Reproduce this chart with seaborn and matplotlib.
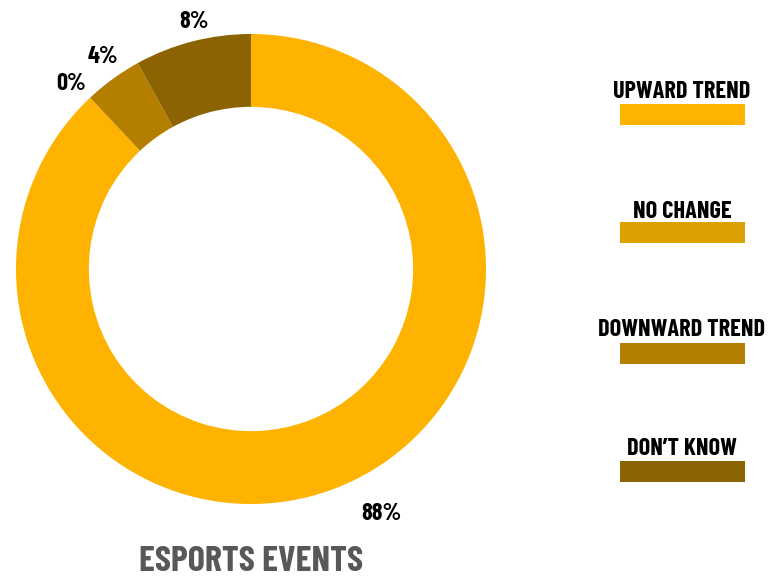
import numpy as np
import matplotlib
matplotlib.use("Agg")
import matplotlib.pyplot as plt
from matplotlib.patches import Rectangle
import seaborn as sns

# Survey answers for esports events
categories = ["UPWARD TREND", "NO CHANGE", "DOWNWARD TREND", "DON\u2019T KNOW"]
shares = [88, 0, 4, 8]
pct_labels = ["88%", "0%", "4%", "8%"]
title = "ESPORTS EVENTS"

colors = ["#FDB300", "#DCA000", "#B47F00", "#8B6300"]

sns.set_theme(style="white")
plt.rcParams["font.family"] = ["Barlow Condensed", "DejaVu Sans"]
plt.rcParams["font.weight"] = 700

W, H = 769, 578
fig = plt.figure(figsize=(W / 100, H / 100), dpi=100)
fig.patch.set_facecolor("white")

# donut: centre (251, 269) px, outer radius 235 px
cx, cy, r = 251, 269, 235
ax = fig.add_axes([(cx - r) / W, (H - cy - r) / H, 2 * r / W, 2 * r / H])
wedges, _ = ax.pie(shares, colors=colors, startangle=90, counterclock=False,
                   radius=1.0, wedgeprops=dict(width=0.31, edgecolor="none"))
ax.set_xlim(-1, 1)
ax.set_ylim(-1, 1)
ax.set_aspect("equal")
ax.axis("off")

# value labels just outside each wedge
label_dist = [1.18, 1.10, 1.10, 1.08]
angle_shift = [6.5, 1.0, -1.0, -1.5]
total = sum(shares)
start = 90.0
for i, v in enumerate(shares):
    sweep = 360.0 * v / total
    mid = start - sweep / 2 + angle_shift[i]
    start -= sweep
    t = np.deg2rad(mid)
    ax.text(label_dist[i] * np.cos(t), label_dist[i] * np.sin(t), pct_labels[i],
            ha="center", va="center", fontsize=17.5, fontweight=700,
            color="black", clip_on=False)

fig.text(cx / W, 1 - 562 / H, title, ha="center", va="center",
         fontsize=26, fontweight=700, color="#58585A")

# legend column on the right
leg = fig.add_axes([0, 0, 1, 1], zorder=-1)
leg.set_xlim(0, W)
leg.set_ylim(H, 0)
leg.axis("off")
label_y = [92, 212, 330, 449]
bar_y = [104, 222, 343, 461]
for name, col, ly, by in zip(categories, colors, label_y, bar_y):
    leg.text(682, ly, name, ha="center", va="center", fontsize=17.5,
             fontweight=700, color="black")
    leg.add_patch(Rectangle((620, by), 125, 21, facecolor=col, edgecolor="none"))

fig.savefig("out.png", dpi=100, facecolor="white")
